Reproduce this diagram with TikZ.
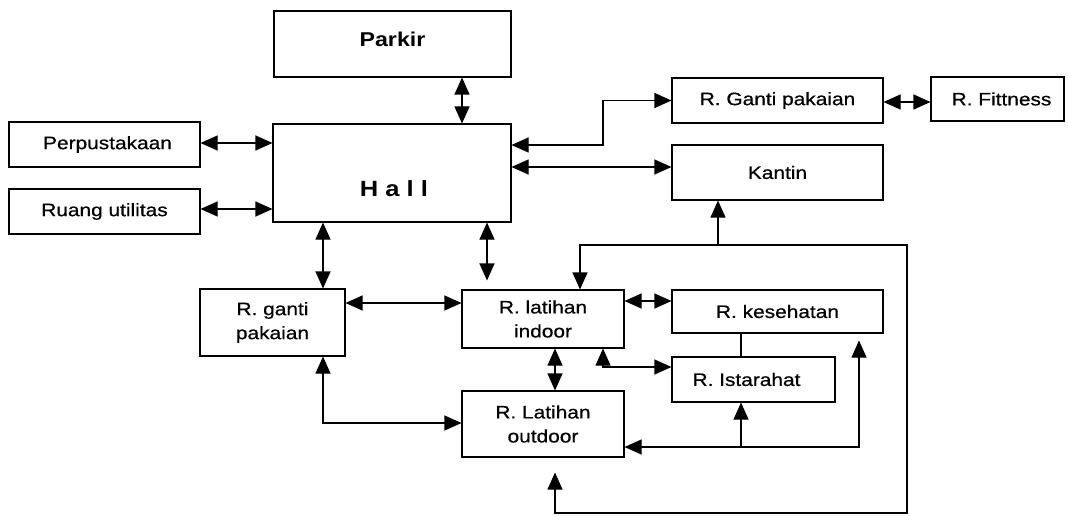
\documentclass[tikz,border=0pt]{standalone}
\usepackage{fontspec}
\setmainfont{Liberation Sans}[FakeStretch=1.16, FakeBold=0.6, BoldFeatures={FakeBold=0}]
\usetikzlibrary{arrows.meta}
\begin{document}
\begin{tikzpicture}[x=1pt,y=-1pt,
  box/.style={draw, line width=1.1pt, rectangle, inner sep=0pt, align=center,
    font=\fontsize{18}{24}\selectfont},
  conn/.style={line width=1.1pt},
  tip/.tip={Triangle[length=17pt,width=15pt]},
  dbl/.style={conn, tip-tip},
  one/.style={conn, -tip}]
\useasboundingbox (0,0) rectangle (1068,516);
% nodes
\node[box, minimum width=237pt, minimum height=66pt] (parkir) at (392.5,44) {};
\node[font=\fontsize{20}{24}\bfseries] (parkirT) at (392.5,39) {Parkir};
\node[box, minimum width=238pt, minimum height=98pt] (hall) at (392,173) {};
\node[font=\fontsize{22}{26}\bfseries] (hallT) at (394,189) {H a l l};
\node[box, minimum width=191pt, minimum height=45pt] (perp) at (104.5,144.5) {\hspace{6pt}Perpustakaan};
\node[box, minimum width=191pt, minimum height=45pt] (util) at (104.5,211.5) {Ruang utilitas};
\node[box, minimum width=211pt, minimum height=45pt] (rgp) at (777.5,100.5) {R. Ganti pakaian};
\node[box, minimum width=133pt, minimum height=44pt] (fit) at (997.5,99) {\hspace{8pt}R. Fittness};
\node[box, minimum width=211pt, minimum height=55pt] (kantin) at (777.5,172.5) {Kantin};
\node[box, minimum width=145pt, minimum height=67pt] (rgp2) at (272.5,322.5) {R. ganti\\pakaian};
\node[box, minimum width=162pt, minimum height=58pt] (indoor) at (543,319) {R. latihan\\indoor};
\node[box, minimum width=211pt, minimum height=43pt] (kes) at (777.5,311.5) {R. kesehatan};
\node[box, minimum width=163pt, minimum height=45pt] (ista) at (753.5,379.5) {R. Istarahat\hspace{14pt}};
\node[box, minimum width=162pt, minimum height=66pt] (outdoor) at (543,424) {R. Latihan\\outdoor};
% helper coordinates for free ends
\coordinate (loopNE) at (907,245);
\coordinate (loopSE) at (907,513);
\coordinate (loopSW) at (555,513);
\coordinate (branch) at (741,447);
% connectors
\draw[dbl] (parkir.south -| 462,0) -- (hall.north -| 462,0);
\draw[dbl] (perp.east |- 0,143) -- (hall.west |- 0,143);
\draw[dbl] (util.east |- 0,209) -- (hall.west |- 0,209);
\draw[dbl] (hall.east |- 0,145) -- (603,145) |- (rgp.west);
\draw[dbl] (hall.east |- 0,167) -- (kantin.west |- 0,167);
\draw[dbl] (rgp.east |- 0,102) -- (fit.west |- 0,102);
\draw[dbl] (hall.south -| 323,0) -- (rgp2.north -| 323,0);
\draw[dbl, shorten >=9pt] (hall.south -| 487,0) -- (indoor.north -| 487,0);
\draw[dbl] (rgp2.east |- 0,303) -- (indoor.west |- 0,303);
\draw[dbl] (rgp2.south -| 323,0) |- (outdoor.west |- 0,423);
\draw[dbl] (indoor.south -| 555,0) -- (outdoor.north -| 555,0);
\draw[dbl] (indoor.east |- 0,301) -- (kes.west |- 0,301);
\draw[dbl] (indoor.south -| 603,0) |- (ista.west |- 0,367);
\draw[conn] (kes.south -| 741,0) -- (ista.north -| 741,0);
\draw[dbl, shorten >=7pt] (outdoor.east |- 0,447) -| (kes.south -| 859,0);
\draw[one] (branch) -- (ista.south -| 741,0);
\draw[one] (loopNE -| 718,0) -- (kantin.south -| 718,0);
\draw[dbl, shorten >=15pt] (indoor.north -| 580,0) |- (loopNE) -- (loopSE) -- (loopSW) -- (outdoor.south -| 555,0);
\end{tikzpicture}
\end{document}
